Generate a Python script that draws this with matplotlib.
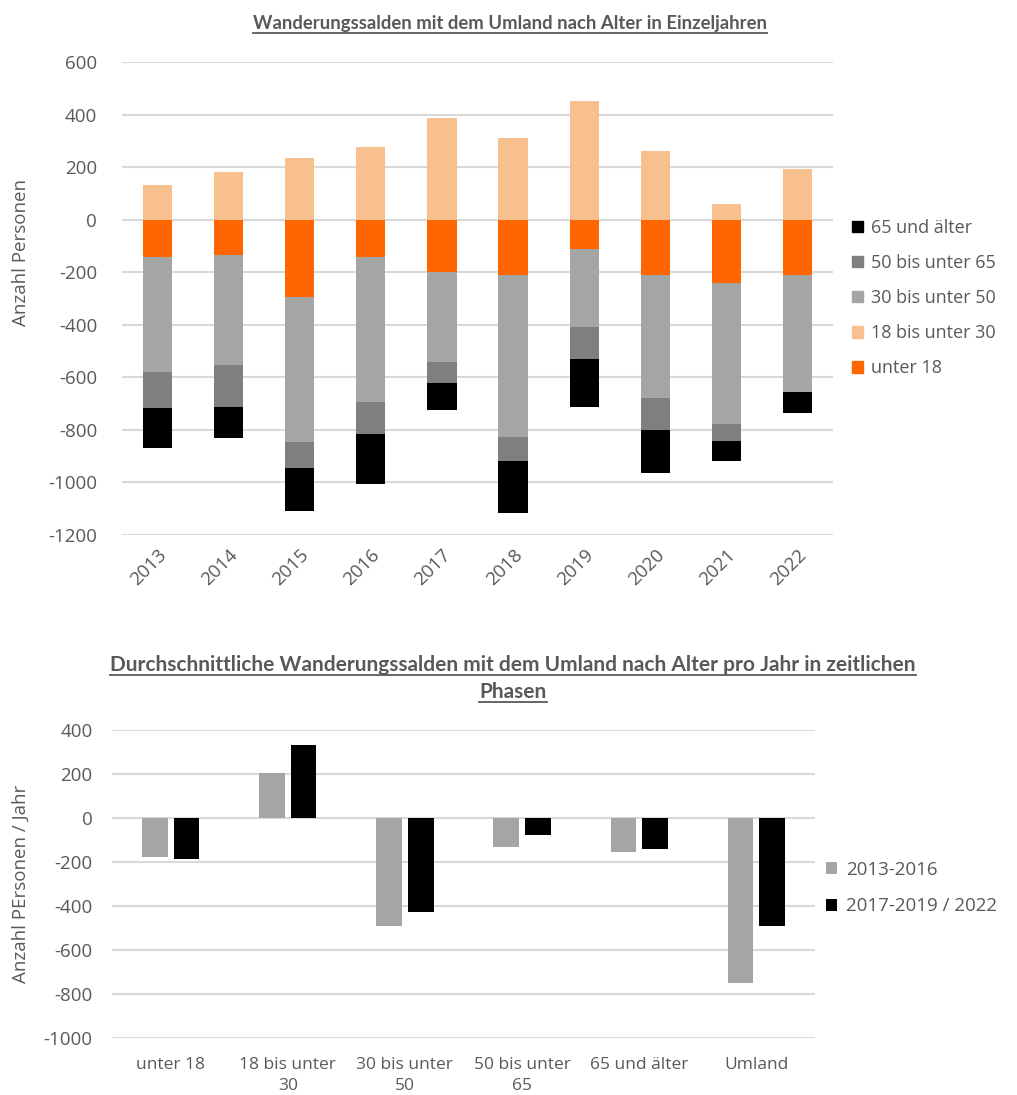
import matplotlib
matplotlib.use("Agg")
import matplotlib.pyplot as plt
import numpy as np
from matplotlib.patches import Patch
from matplotlib.lines import Line2D

plt.rcParams['font.family'] = ['Open Sans', 'DejaVu Sans']
plt.rcParams['axes.unicode_minus'] = False

# Wanderungssalden by single year (persons)
years = ["2013", "2014", "2015", "2016", "2017", "2018", "2019", "2020", "2021", "2022"]
unter_18 = [-141, -136, -296, -143, -199, -212, -112, -209, -240, -209]
bis_30 = [132, 181, 233, 278, 386, 310, 450, 260, 60, 194]
bis_50 = [-439, -418, -549, -551, -343, -616, -295, -468, -539, -448]
bis_65 = [-137, -158, -101, -120, -81, -92, -122, -123, -63, 0]
ab_65 = [-153, -120, -164, -192, -101, -195, -185, -163, -76, -77]

# Average balance per year by phase
groups = ["unter 18", "18 bis unter\n30", "30 bis unter\n50", "50 bis unter\n65", "65 und älter", "Umland"]
phase_1 = [-179, 206, -490, -133, -156, -749]
phase_2 = [-186, 334, -428, -76, -142, -490]
phase_labels = ["2013-2016", "2017-2019 / 2022"]

C_U18 = "#FF6600"
C_30 = "#F8BF8F"
C_50 = "#A5A5A5"
C_65 = "#7F7F7F"
C_OLD = "#000000"
TXT = "#595959"
GRID = "#D9D9D9"

W, H = 1017, 1095
fig = plt.figure(figsize=(W / 100, H / 100), dpi=100)


def underlined_title(text, x, y, size):
    t = fig.text(x, y, text, ha="center", va="baseline", fontsize=size,
                 fontweight="bold", color=TXT, family=["Lato", "DejaVu Sans"])
    fig.canvas.draw()
    bb = t.get_window_extent()
    uy = (y * H - 3.5) / H
    fig.add_artist(Line2D([bb.x0 / W, bb.x1 / W], [uy, uy], color=TXT, lw=1.3,
                          transform=fig.transFigure))
    return t


def style_axes(ax, size):
    for s in ax.spines.values():
        s.set_visible(False)
    ax.yaxis.grid(True, color=GRID, lw=1.5)
    ax.set_axisbelow(True)
    ax.tick_params(axis="both", length=0, colors=TXT, labelsize=size)


# ---- top: stacked bars per year ----
ax1 = fig.add_axes([122 / W, 1 - 535 / H, 711 / W, 473 / H])
style_axes(ax1, 13.5)
x = np.arange(len(years))
bw = 0.41
u18 = np.array(unter_18)
b50 = np.array(bis_50)
b65 = np.array(bis_65)
o65 = np.array(ab_65)
ax1.bar(x, bis_30, bw, color=C_30)
ax1.bar(x, u18, bw, color=C_U18)
ax1.bar(x, b50, bw, bottom=u18, color=C_50)
ax1.bar(x, b65, bw, bottom=u18 + b50, color=C_65)
ax1.bar(x, o65, bw, bottom=u18 + b50 + b65, color=C_OLD)
ax1.set_xlim(-0.5, len(years) - 0.5)
ax1.set_ylim(-1200, 600)
ax1.set_yticks(np.arange(-1200, 601, 200))
ax1.set_xticks(x)
ax1.set_xticklabels(years, rotation=45, ha="right", rotation_mode="anchor")
ax1.tick_params(axis="x", pad=8)
ax1.tick_params(axis="y", pad=18)
ax1.set_ylabel("Anzahl Personen", color=TXT, fontsize=13.5)
ax1.yaxis.set_label_coords((30 - 122) / 711, (535 - 253) / 473)

handles1 = [Patch(color=C_OLD), Patch(color=C_65), Patch(color=C_50),
            Patch(color=C_30), Patch(color=C_U18)]
labels1 = ["65 und älter", "50 bis unter 65", "30 bis unter 50", "18 bis unter 30", "unter 18"]
fig.legend(handles1, labels1, loc="center left", bbox_to_anchor=(852 / W, 1 - 298 / H),
           frameon=False, fontsize=13, labelcolor=TXT, handlelength=0.6,
           handleheight=0.6, handletextpad=0.45, labelspacing=0.95,
           borderaxespad=0, borderpad=0)

underlined_title("Wanderungssalden mit dem Umland nach Alter in Einzeljahren",
                 0.5 * (255 + 765) / W, 1 - 29 / H, 13.3)

# ---- bottom: average by phase ----
ax2 = fig.add_axes([112 / W, 1 - 1038 / H, 703 / W, 308 / H])
style_axes(ax2, 13.5)
g = np.arange(len(groups))
gw = 0.22
gap = 0.05
ax2.bar(g - (gw + gap) / 2, phase_1, gw, color=C_50, label=phase_labels[0])
ax2.bar(g + (gw + gap) / 2, phase_2, gw, color=C_OLD, label=phase_labels[1])
ax2.set_xlim(-0.5, len(groups) - 0.5)
ax2.set_ylim(-1000, 400)
ax2.set_yticks(np.arange(-1000, 401, 200))
ax2.set_xticks(g)
ax2.set_xticklabels(groups, fontsize=12.5, linespacing=1.35)
ax2.tick_params(axis="x", pad=14)
ax2.tick_params(axis="y", pad=14)
ax2.set_ylabel("Anzahl PErsonen / Jahr", color=TXT, fontsize=13.5)
ax2.yaxis.set_label_coords((30 - 112) / 703, 0.5)
h2, l2 = ax2.get_legend_handles_labels()
fig.legend(h2, l2, loc="center left", bbox_to_anchor=(826 / W, 1 - 888 / H),
           frameon=False, fontsize=13.5, labelcolor=TXT, handlelength=0.6,
           handleheight=0.6, handletextpad=0.45, labelspacing=1.0,
           borderaxespad=0, borderpad=0)

underlined_title("Durchschnittliche Wanderungssalden mit dem Umland nach Alter pro Jahr in zeitlichen",
                 513 / W, 1 - 671 / H, 15)
underlined_title("Phasen", 513 / W, 1 - 698 / H, 15)

fig.savefig("out.png", dpi=100, facecolor="white")
